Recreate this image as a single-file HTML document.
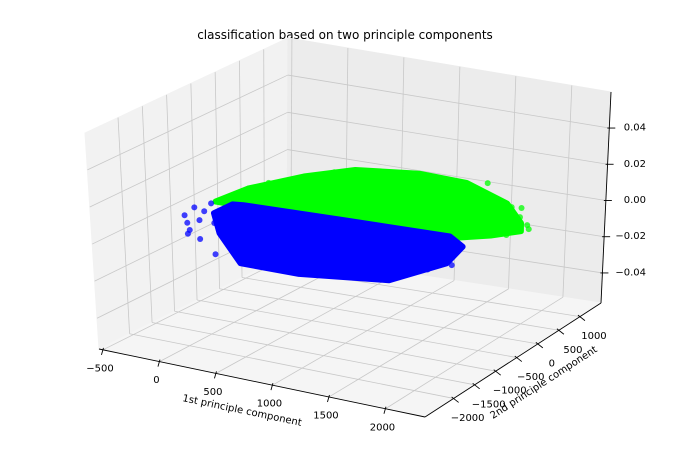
<!DOCTYPE html>
<html><head><meta charset="utf-8"><style>
html,body{margin:0;padding:0;background:#fff;}
svg{display:block;font-family:"DejaVu Sans","Liberation Sans",sans-serif;}
</style></head><body>
<svg id="chart" width="691" height="456" viewBox="0 0 691 456" xmlns="http://www.w3.org/2000/svg">
<rect width="691" height="456" fill="#fff"/>
<text x="345" y="39" font-size="12" text-anchor="middle" fill="#000">classification based on two principle components</text>
<g id="panes"></g><g id="grid"></g><g id="axes"></g><g id="marks"></g>
<text x="0" y="0" font-size="10" text-anchor="middle" dominant-baseline="central" transform="translate(242,411) rotate(11.8)">1st principle component</text>
<text x="0" y="0" font-size="10" text-anchor="middle" dominant-baseline="central" transform="translate(544,383) rotate(-33)">2nd principle component</text>
</svg>
<script>
const xTicks=[-500,0,500,1000,1500,2000];
const yTicks=[-2000,-1500,-1000,-500,0,500,1000];
const zTicks=[-0.04,-0.02,0.00,0.02,0.04];
const zTickLabels=["−0.04","−0.02","0.00","0.02","0.04"];
const xTickLabels=["−500","0","500","1000","1500","2000"];
const yTickLabels=["−2000","−1500","−1000","−500","0","500","1000"];
// class outlines (1st PC, 2nd PC), all points at z=0
const greenHullX=[-300,-260,-50,211,700,1150,1700,2050,2150,2000,1750,800,-65];
const greenHullY=[-600,0,700,1186,1400,1350,900,350,100,-200,-500,-560,-600];
const blueHullX=[-150,-65,800,1734,1950,2050,1874,1200,678,147,-153];
const blueHullY=[-600,-568,-500,-446,-700,-1300,-2143,-2450,-2440,-1596,-988];
const greenPtsX=[2118,1780,1966,1809,1897,1926,1859,-200,100,1300,2180,2100];
const greenPtsY=[319,807,534,573,216,-63,832,300,1000,1450,200,-100];
const bluePtsX=[-320,-88,-244,-19,-156,265,-362,-305,2108,1904,1999,400,-200,-50,0,100];
const bluePtsY=[-1219,-1668,-980,-1306,-1294,-1710,-909,-686,-1335,-1164,-1602,-2300,-1450,-1800,-1100,-1900];

const X0=-535,X1=2350,Y0=-2680,Y1=1500,Z0=-0.0566,Z1=0.0599;
const C={"000":[99,349],"001":[85,133],"100":[425,417],"101":[412,182],"110":[601,303],"111":[611,92],"010":[287,255],"011":[288,38]};
function proj(x,y,z){
  const u=(x-X0)/(X1-X0),v=(y-Y0)/(Y1-Y0),w=(z-Z0)/(Z1-Z0);
  let px=0,py=0;
  for(const a of [0,1])for(const b of [0,1])for(const c of [0,1]){
    const wt=(a?u:1-u)*(b?v:1-v)*(c?w:1-w);const p=C[""+a+b+c];px+=wt*p[0];py+=wt*p[1];}
  return [px,py];
}
const NS="http://www.w3.org/2000/svg";
function mk(tag,parent,attrs){const e=document.createElementNS(NS,tag);for(const k in attrs)e.setAttribute(k,attrs[k]);parent.appendChild(e);return e;}
function poly(pts){return pts.map(p=>p[0].toFixed(1)+","+p[1].toFixed(1)).join(" ");}
const panes=document.getElementById("panes"),grid=document.getElementById("grid"),axes=document.getElementById("axes"),marks=document.getElementById("marks");
let e;
e=mk("polygon",panes,{points:poly([proj(X0,Y0,Z0),proj(X0,Y1,Z0),proj(X0,Y1,Z1),proj(X0,Y0,Z1)]),fill:"#f2f2f2",stroke:"#f2f2f2"});


e=mk("polygon",panes,{points:poly([proj(X0,Y1,Z0),proj(X1,Y1,Z0),proj(X1,Y1,Z1),proj(X0,Y1,Z1)]),fill:"#ececec",stroke:"#ececec"});


e=mk("polygon",panes,{points:poly([proj(X0,Y0,Z0),proj(X1,Y0,Z0),proj(X1,Y1,Z0),proj(X0,Y1,Z0)]),fill:"#f5f5f5",stroke:"#f5f5f5"});


function gl(a,b){const l=mk("line",grid,{x1:a[0],y1:a[1],x2:b[0],y2:b[1],stroke:"#c8c8c8","stroke-width":0.8});

}
xTicks.forEach(x=>{gl(proj(x,Y0,Z0),proj(x,Y1,Z0));gl(proj(x,Y1,Z0),proj(x,Y1,Z1));});
yTicks.forEach(y=>{gl(proj(X0,y,Z0),proj(X1,y,Z0));gl(proj(X0,y,Z0),proj(X0,y,Z1));});
zTicks.forEach(z=>{gl(proj(X0,Y0,z),proj(X0,Y1,z));gl(proj(X0,Y1,z),proj(X1,Y1,z));});
function al(a,b,name){const l=mk("line",axes,{x1:a[0],y1:a[1],x2:b[0],y2:b[1],stroke:"#000","stroke-width":0.9});

}
al(proj(X0,Y0,Z0),proj(X1,Y0,Z0),'x-axis-line');
al(proj(X1,Y0,Z0),proj(X1,Y1,Z0),'y-axis-line');
al(proj(X1,Y1,Z0),proj(X1,Y1,Z1),'z-axis-line');
function lbl(x,y,s,anchor,name){const t=mk("text",axes,{x:x,y:y,"font-size":10,"text-anchor":anchor,"dominant-baseline":"central",fill:"#000"});t.textContent=s;

}
xTicks.forEach((x,i)=>{const p=proj(x,Y0,Z0);al([p[0]+0.5,p[1]-2],[p[0]-1.5,p[1]+5],'x-tick');lbl(p[0]-3,p[1]+19,xTickLabels[i],"middle",'x-tick-label');});
yTicks.forEach((y,i)=>{const p=proj(X1,y,Z0);al([p[0]-2,p[1]-1.5],[p[0]+5,p[1]+4],'y-tick');lbl(p[0]+14,p[1]+20,yTickLabels[i],"middle",'y-tick-label');});
zTicks.forEach((z,i)=>{const p=proj(X1,Y1,z);al([p[0]-2,p[1]],[p[0]+6,p[1]],'z-tick');lbl(646,p[1],zTickLabels[i],"end",'z-tick-label');});
function hull(xs,ys,col,name){const pts=xs.map((x,i)=>proj(x,ys[i],0));
const h=mk("polygon",marks,{points:poly(pts),fill:col,stroke:col,"stroke-width":6,"stroke-linejoin":"round"});

}
function dots(xs,ys,col,name){xs.forEach((x,i)=>{const p=proj(x,ys[i],0);const c=mk("circle",marks,{cx:p[0],cy:p[1],r:3,fill:col,"fill-opacity":0.75});

});}
hull(greenHullX,greenHullY,"#00ff00","green-class-cloud");
dots(greenPtsX,greenPtsY,"#00ff00","green-point");
hull(blueHullX,blueHullY,"#0000ff","blue-class-cloud");
dots(bluePtsX,bluePtsY,"#0000ff","blue-point");
</script>
</body></html>
